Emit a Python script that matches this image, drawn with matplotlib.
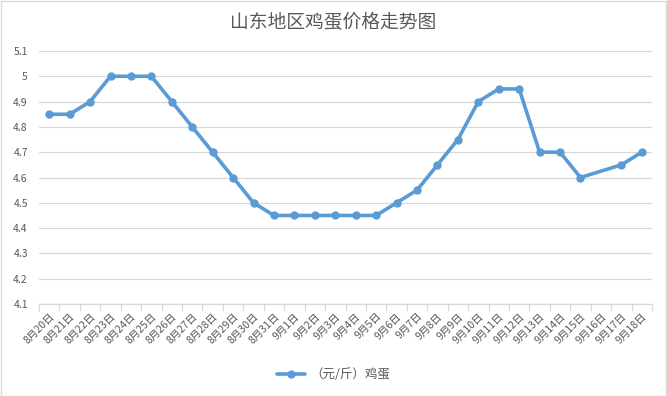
import numpy as np
import matplotlib
matplotlib.use('Agg')
import matplotlib.pyplot as plt

plt.rcParams['font.family'] = ['Noto Sans CJK SC', 'DejaVu Sans']

# Dates and egg prices (yuan per jin); 9月16日 has no value
dates = ['8月20日', '8月21日', '8月22日', '8月23日', '8月24日', '8月25日', '8月26日',
         '8月27日', '8月28日', '8月29日', '8月30日', '8月31日', '9月1日', '9月2日',
         '9月3日', '9月4日', '9月5日', '9月6日', '9月7日', '9月8日', '9月9日',
         '9月10日', '9月11日', '9月12日', '9月13日', '9月14日', '9月15日', '9月16日',
         '9月17日', '9月18日']
prices = [4.85, 4.85, 4.9, 5.0, 5.0, 5.0, 4.9, 4.8, 4.7, 4.6, 4.5, 4.45, 4.45, 4.45,
          4.45, 4.45, 4.45, 4.5, 4.55, 4.65, 4.75, 4.9, 4.95, 4.95, 4.7, 4.7, 4.6, None,
          4.65, 4.7]
yticks = [4.1, 4.2, 4.3, 4.4, 4.5, 4.6, 4.7, 4.8, 4.9, 5.0, 5.1]
ytick_labels = ['4.1', '4.2', '4.3', '4.4', '4.5', '4.6', '4.7', '4.8', '4.9', '5', '5.1']

text_color = '#595959'
line_color = '#5B9BD5'
grid_color = '#D9D9D9'

W, H = 667, 396
fig = plt.figure(figsize=(W / 100, H / 100), dpi=100)
ax = fig.add_axes([39 / W, 1 - 304 / H, (652 - 39) / W, (304 - 51) / H])

# empty cells are skipped, the line joins the neighbours
xs = [i for i, v in enumerate(prices) if v is not None]
ys = [v for v in prices if v is not None]
ax.plot(xs, ys, color=line_color, linewidth=2.6, marker='o', markersize=5,
        label='（元/斤）鸡蛋', solid_capstyle='round', zorder=3)

ax.set_xlim(-0.5, len(dates) - 0.5)
ax.set_ylim(4.1, 5.1)
ax.set_yticks(yticks)
ax.set_yticklabels(ytick_labels)
ax.yaxis.grid(True, color=grid_color, linewidth=0.9)
ax.set_axisbelow(True)

# tick marks on category boundaries, labels on centres
ax.set_xticks(np.arange(len(dates) + 1) - 0.5)
ax.set_xticklabels([])
ax.set_xticks(np.arange(len(dates)), minor=True)
ax.set_xticklabels(dates, minor=True, rotation=45, ha='right',
                   rotation_mode='anchor', fontsize=7.6, color=text_color)
ax.tick_params(axis='x', which='major', length=5, color=grid_color, width=0.9)
ax.tick_params(axis='x', which='minor', length=0, pad=5)
ax.tick_params(axis='y', length=0, labelsize=7.5, labelcolor=text_color, pad=8)

for s in ['top', 'right', 'left']:
    ax.spines[s].set_visible(False)
ax.spines['bottom'].set_color(grid_color)
ax.spines['bottom'].set_linewidth(0.9)

fig.text(0.5, 1 - 22 / H, '山东地区鸡蛋价格走势图', ha='center', va='center',
         fontsize=13.5, color=text_color)

fig.legend(loc='center', bbox_to_anchor=(0.5, 1 - 375 / H), frameon=False,
           fontsize=9, labelcolor=text_color, handlelength=2.2, handletextpad=0.4)

# light border round the chart
fig.patches.append(plt.Rectangle((0.5 / W, 0.5 / H), 1 - 1.5 / W, 1 - 1.5 / H,
                                 transform=fig.transFigure, fill=False,
                                 edgecolor=grid_color, linewidth=1))

fig.savefig('out.png', dpi=100)
